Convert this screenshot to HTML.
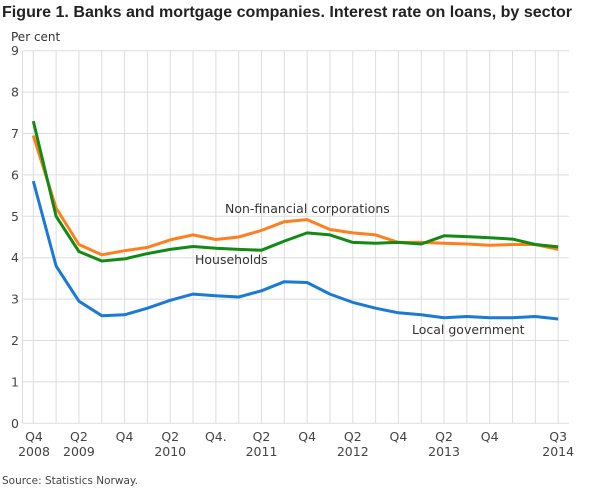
<!DOCTYPE html>
<html><head><meta charset="utf-8"><style>
body{margin:0;background:#fff;}
svg{display:block;font-family:"DejaVu Sans","Liberation Sans",sans-serif;}
</style></head><body>
<svg width="610" height="488" viewBox="0 0 610 488">
<text x="2" y="17" font-size="15.5" fill="#222" font-weight="bold" style="font-family:'Liberation Sans',sans-serif" textLength="570" lengthAdjust="spacingAndGlyphs">Figure 1. Banks and mortgage companies. Interest rate on loans, by sector</text>
<text x="11" y="41" font-size="12" fill="#333">Per cent</text>
<g id="grid" stroke="#ddd" stroke-width="1"></g>
<g id="yl" font-size="12.5" fill="#444" text-anchor="end"></g>
<g id="xl" font-size="12.5" fill="#444" text-anchor="middle"></g>
<g id="lines" fill="none" stroke-width="3" stroke-linejoin="round"></g>
<text x="225" y="213" font-size="12.5" fill="#333">Non-financial corporations</text>
<text x="195" y="264" font-size="12.5" fill="#333">Households</text>
<text x="412" y="334" font-size="12.5" fill="#333">Local government</text>
<text x="2" y="484" font-size="10.5" fill="#444">Source: Statistics Norway.</text>
</svg>
<script>
var ns="http://www.w3.org/2000/svg";
function el(p,t,a,txt){var e=document.createElementNS(ns,t);for(var k in a)e.setAttribute(k,a[k]);if(txt!==undefined)e.textContent=txt;document.getElementById(p).appendChild(e);return e;}
var x0=33.3,dx=22.82,y0=423.3,dy=41.4,L=22.5,R=569;
function X(i){return x0+dx*i;}function Y(v){return y0-dy*v;}
for(var v=0;v<=9;v++){el("grid","line",{x1:L,x2:R,y1:Y(v),y2:Y(v)});el("yl","text",{x:19,y:Y(v)+4.5},String(v));}
for(var i=0;i<24;i++)el("grid","line",{x1:X(i),x2:X(i),y1:Y(9),y2:y0});
el("grid","line",{x1:L,x2:L,y1:Y(9),y2:y0});
var labs={0:["Q4","2008"],2:["Q2","2009"],4:["Q4",""],6:["Q2","2010"],8:["Q4.",""],10:["Q2","2011"],12:["Q4",""],14:["Q2","2012"],16:["Q4",""],18:["Q2","2013"],20:["Q4",""],23:["Q3","2014"]};
for(var k in labs){var xx=X(+k);if(k==0)xx=34;el("xl","text",{x:xx,y:441},labs[k][0]);if(labs[k][1])el("xl","text",{x:xx,y:456},labs[k][1]);}
var S=[
["#1a7ad4",[5.85,3.8,2.95,2.6,2.62,2.78,2.97,3.12,3.08,3.05,3.2,3.42,3.4,3.12,2.92,2.78,2.67,2.62,2.55,2.58,2.55,2.55,2.58,2.52]],
["#ff7f1e",[6.95,5.2,4.32,4.07,4.17,4.25,4.43,4.55,4.44,4.5,4.66,4.87,4.92,4.68,4.6,4.55,4.37,4.37,4.35,4.33,4.3,4.32,4.32,4.2]],
["#138a13",[7.3,5.0,4.15,3.92,3.97,4.1,4.2,4.27,4.23,4.2,4.18,4.4,4.6,4.55,4.37,4.35,4.37,4.33,4.53,4.51,4.48,4.45,4.32,4.26]]];
S.forEach(function(s){var d=s[1].map(function(v,i){return (i?"L":"M")+X(i).toFixed(1)+","+Y(v).toFixed(1);}).join("");el("lines","path",{d:d,stroke:s[0]});});
</script>
</body></html>
